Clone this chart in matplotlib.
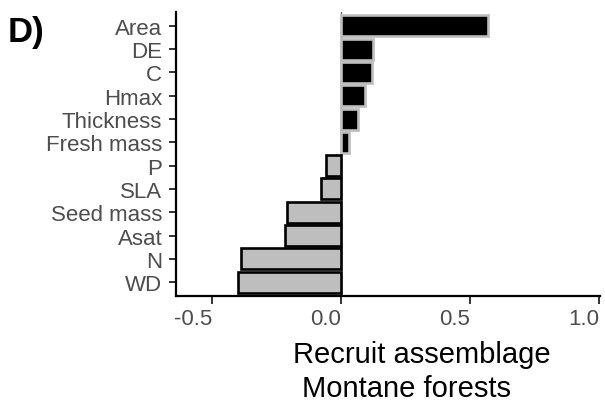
import numpy as np
import matplotlib.pyplot as plt

plt.rcParams['font.family'] = ['Liberation Sans', 'DejaVu Sans']

# trait loadings, listed bottom to top
traits = ['WD', 'N', 'Asat', 'Seed mass', 'SLA', 'P',
          'Fresh mass', 'Thickness', 'Hmax', 'C', 'DE', 'Area']
loadings = [-0.400, -0.387, -0.219, -0.211, -0.077, -0.058,
            0.030, 0.066, 0.092, 0.118, 0.124, 0.569]
ticks = [-0.5, 0.0, 0.5, 1.0]
tick_labels = ['-0.5', '0.0', '0.5', '1.0']

fig = plt.figure(figsize=(6.05, 4.06), dpi=100)
ax = fig.add_axes([175.7 / 605, 109.3 / 406, (600.3 - 175.7) / 605, (296.7 - 13.3) / 406])

y = np.arange(len(traits))
vals = np.array(loadings)
pos = vals > 0

ax.axvline(0, color='#5f6f80', lw=1.0, zorder=1)
ax.barh(y[pos], vals[pos], height=0.9, color='black', edgecolor='#bdbdbd',
        linewidth=1.9, zorder=2)
ax.barh(y[~pos], vals[~pos], height=0.9, color='#bebebe', edgecolor='black',
        linewidth=1.9, zorder=2)

ax.set_xlim(-0.642, 1.005)
ax.set_ylim(-0.575, len(traits) - 1 + 0.575)
ax.set_yticks(y)
ax.set_yticklabels(traits)
ax.set_xticks(ticks)
# labels sit flush right against their ticks
ax.set_xticklabels(tick_labels, ha='right')

for s in ['top', 'right']:
    ax.spines[s].set_visible(False)
for s in ['left', 'bottom']:
    ax.spines[s].set_linewidth(1.6)
    ax.spines[s].set_color('black')

ax.tick_params(axis='both', length=5.4, width=1.4, color='#333333',
               labelcolor='#4d4d4d', labelsize=16)
ax.tick_params(axis='y', pad=4.3)
ax.tick_params(axis='x', pad=3.6)

fig.text(422 / 605, (406 - 363) / 406, 'Recruit assemblage', ha='center',
         va='baseline', fontsize=21, color='black')
fig.text(406.3 / 605, (406 - 396.7) / 406, 'Montane forests', ha='center',
         va='baseline', fontsize=21, color='black')
fig.text(8 / 605, (406 - 41.7) / 406, 'D)', ha='left', va='baseline',
         fontsize=25, fontweight='bold', color='black')

fig.savefig('out.png', dpi=100)
